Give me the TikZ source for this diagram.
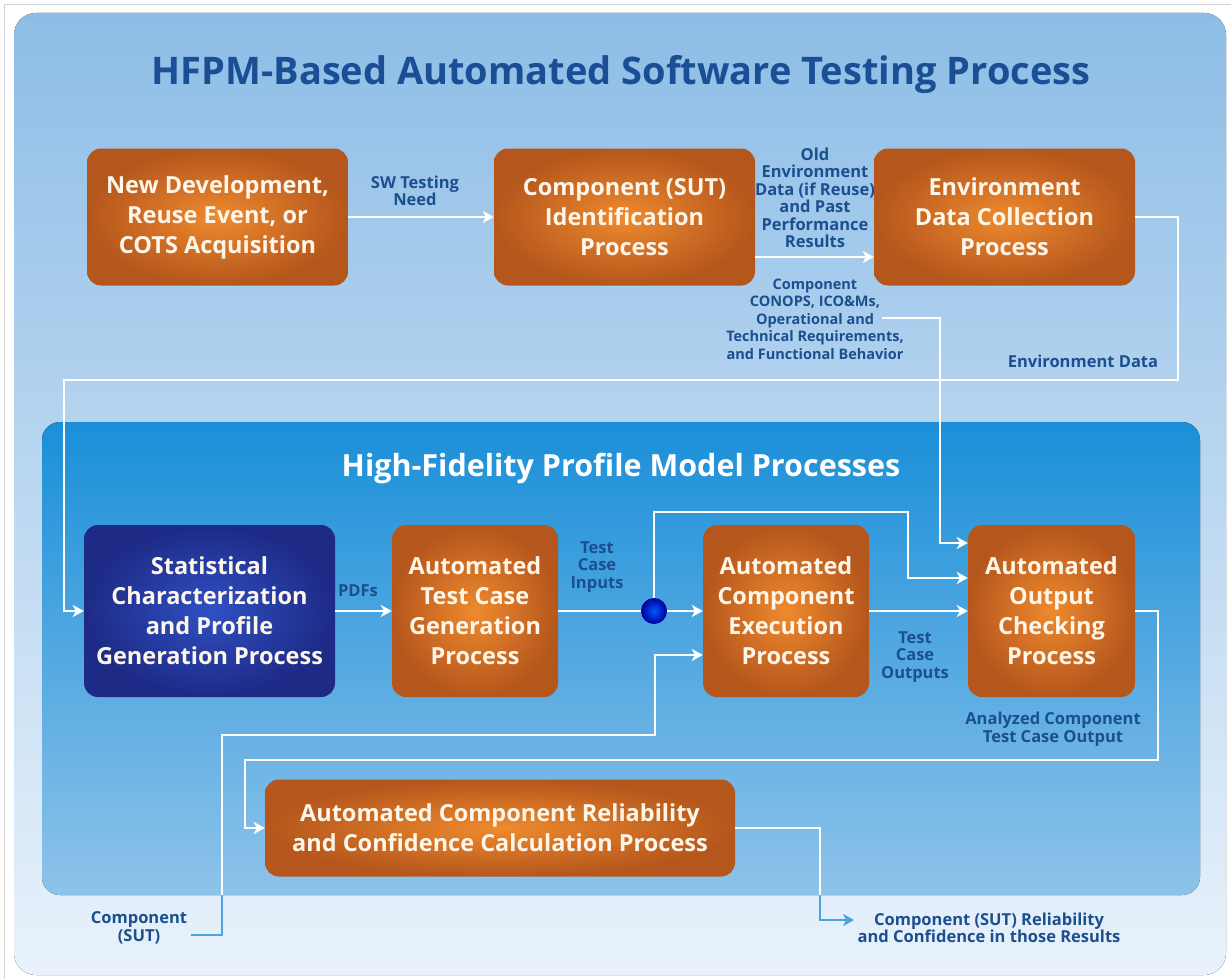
\documentclass[tikz,border=0pt]{standalone}
\usepackage{fontspec}
\setmainfont{Open Sans}
\usetikzlibrary{shapes,arrows,arrows.meta,positioning,calc}

\definecolor{bgtop}{HTML}{8DBDE6}
\definecolor{bgbot}{HTML}{E9F2FB}
\definecolor{paneltop}{HTML}{1A8FD8}
\definecolor{panelbot}{HTML}{8EC3EA}
\definecolor{boxinner}{HTML}{EE8A2E}
\definecolor{boxouter}{HTML}{B5561C}
\definecolor{statinner}{HTML}{3050C2}
\definecolor{statouter}{HTML}{1D2A86}
\definecolor{titleblue}{HTML}{1A4F96}
\definecolor{lblblue}{HTML}{1B4F8F}
\definecolor{flowblue}{HTML}{4EA3DC}
\definecolor{boxtext}{HTML}{FFF6EA}

\begin{document}
\begin{tikzpicture}[x=1pt, y=-1pt,
    procbox/.style={rounded corners=14pt, inner color=boxinner, outer color=boxouter, text=boxtext, align=center, font=\bfseries\fontsize{23.5}{30}\selectfont, minimum width=261pt, minimum height=137pt},
    statbox/.style={procbox, inner color=statinner, outer color=statouter},
    lbl/.style={text=lblblue, align=center, font=\bfseries\fontsize{16.5}{17.5}\selectfont},
    arrow/.style={line width=2.2pt, draw=white, ->, >={Stealth[length=11pt, width=12pt, inset=3pt]}},
    flow/.style={line width=2.2pt, draw=white}]

        % Frame
        \useasboundingbox (0,0) rectangle (1231,979);
        \fill[white] (0,0) rectangle (1231,979);
        \draw[gray!35, line width=1pt] (4,979) -- (4,5) -- (1231,5);
        \fill[rounded corners=22pt, top color=bgtop, bottom color=bgbot] (14,13) rectangle (1226,975);

        \node[text=titleblue, font=\bfseries\fontsize{38}{42}\selectfont] (title) at (621,75) {HFPM-Based Automated Software Testing Process};

        % Top row
        \node[procbox] (newdev) at (217.5,217) {New Development,\\Reuse Event, or\\COTS Acquisition};
        \node[procbox] (compid) at (624.5,217) {Component (SUT)\\Identification\\Process};
        \node[procbox] (envcoll) at (1004.5,217) {Environment\\Data Collection\\Process};

        % High-Fidelity panel
        \fill[rounded corners=18pt, top color=paneltop, bottom color=panelbot] (42,422) rectangle (1200,895);
        \node[text=white, font=\bfseries\fontsize{30.5}{33}\selectfont] (hfpm) at (621,468) {High-Fidelity Profile Model Processes};

        \node[statbox, minimum width=251pt, minimum height=172pt] (statchar) at (209.5,611) {Statistical\\Characterization\\and Profile\\Generation Process};
        \node[procbox, minimum width=166pt, minimum height=172pt] (tcgen) at (475,611) {Automated\\Test Case\\Generation\\Process};
        \node[procbox, minimum width=166pt, minimum height=172pt] (compexec) at (786,611) {Automated\\Component\\Execution\\Process};
        \node[procbox, minimum width=167pt, minimum height=172pt] (outcheck) at (1051.5,611) {Automated\\Output\\Checking\\Process};
        \node[procbox, minimum width=470pt, minimum height=97pt] (relcalc) at (500,828) {Automated Component Reliability\\and Confidence Calculation Process};

        \node[circle, minimum size=26pt, inner sep=0pt, inner color=blue!65!cyan, outer color=blue!60!black] (split) at (654,611) {};

        % Labels
        \node[lbl] (swneed) at (415,191) {SW Testing\\Need};
        \node[lbl] (oldenv) at (815,198) {Old\\Environment\\Data (if Reuse)\\and Past\\Performance\\Results};
        \node[lbl, font=\bfseries\fontsize{14.5}{17.5}\selectfont] (reqs) at (815,319) {Component\\CONOPS, ICO\&Ms,\\Operational and\\Technical Requirements,\\and Functional Behavior};
        \node[lbl] (envlbl) at (1083,361) {Environment Data};
        \node[lbl] (pdfs) at (358,591) {PDFs};
        \node[lbl] (tcin) at (597,567) {Test\\Case\\Inputs};
        \node[lbl] (tcout) at (915,657) {Test\\Case\\Outputs};
        \node[lbl] (analyzed) at (1053,729) {Analyzed Component\\Test Case Output};
        \node[lbl] (sut) at (139,928) {Component\\(SUT)};
        \node[lbl] (result) at (989,928) {Component (SUT) Reliability\\and Confidence in those Results};

        \coordinate (reqstart) at (882,318);
        \coordinate (reqturn) at (940,318);
        \coordinate (envright) at (1178,380);
        \coordinate (envleft) at (64,380);
        \coordinate (loopup) at (654,512);
        \coordinate (loopright) at (908,512);
        \coordinate (outright) at (1158,760);
        \coordinate (outleft) at (245,760);
        \coordinate (sutcorner) at (222,735);
        \coordinate (sutright) at (655,735);
        \coordinate (relturn) at (820,828);

        % Arrows
        \draw [arrow] (newdev) -- (compid);
        \draw [arrow] ([yshift=-40pt]compid.east) -- ([yshift=-40pt]envcoll.west);
        \draw [arrow] (reqstart) -- (reqturn) |- ([yshift=68pt]outcheck.west);
        \draw [arrow] (envcoll.east) -| (envright) -- (envleft) |- (statchar.west);

        \draw [arrow] (statchar) -- (tcgen);
        \draw [flow] (tcgen) -- (split);
        \draw [arrow] (split) -- (compexec);
        \draw [arrow] (split) -- (loopup) -- (loopright) |- ([yshift=33pt]outcheck.west);
        \draw [arrow] (compexec) -- (outcheck);
        \draw [arrow] (outcheck.east) -| (outright) -- (outleft) |- (relcalc.west);

        % Lines leaving the panel: blue outside, white inside
        \draw [arrow, draw=flowblue] ([yshift=-7pt]sut.east) -| (sutcorner) -- (sutright) |- ([yshift=-44pt]compexec.west);
        \draw [arrow, draw=flowblue] (relcalc.east) -- (relturn) |- ([yshift=8pt]result.west);
        \begin{scope}
            \clip[rounded corners=18pt] (42,422) rectangle (1200,895);
            \draw [arrow] ([yshift=-7pt]sut.east) -| (sutcorner) -- (sutright) |- ([yshift=-44pt]compexec.west);
            \draw [flow] (relcalc.east) -- (relturn) |- ([yshift=8pt]result.west);
        \end{scope}

    \end{tikzpicture}
\end{document}
